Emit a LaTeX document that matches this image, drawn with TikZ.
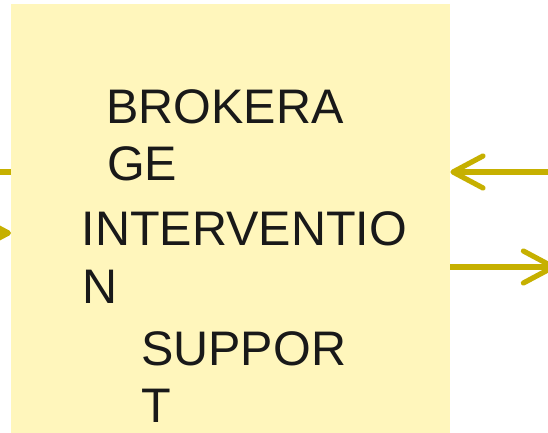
\documentclass[tikz,border=0pt]{standalone}
\usepackage{fontspec}
\setmainfont{Liberation Sans}
\usetikzlibrary{arrows.meta}
\definecolor{boxfill}{RGB}{255,246,188}
\definecolor{olive}{RGB}{198,176,0}
\tikzset{
  lbl/.style={inner sep=0pt,anchor=base west,text=black!90,font=\fontsize{48.5pt}{57pt}\selectfont},
  conn/.style={draw=olive,line width=5.2pt},
  arr/.style={conn,-{Straight Barb[length=30pt,width=32pt,round]}}
}
\begin{document}
\begin{tikzpicture}[x=1pt,y=-1pt]
\useasboundingbox (0,0) rectangle (548,433);
\clip (0,0) rectangle (548,433);
\node[fill=boxfill,inner sep=0pt,minimum width=439pt,minimum height=460pt,anchor=north west] (box) at (11,4) {};
\node[lbl] (t1) at (106,123) {BROKERA};
\node[lbl] (t2) at (107,180) {GE};
\node[lbl] (t3) at (81.5,245) {INTERVENTIO};
\node[lbl] (t4) at (82,303) {N};
\node[lbl] (t5) at (141,365) {SUPPOR};
\node[lbl] (t6) at (141,422) {T};
\coordinate (lout) at (-40,172);
\coordinate (lin) at (-80,233);
\coordinate (rin) at (620,172);
\coordinate (rout) at (556,267);
\draw[conn] (lout -| box.west) -- (lout);
\draw[arr] (lin) -- (lin -| box.west);
\draw[arr] (rin) -- (rin -| box.east);
\draw[arr] (rout -| box.east) -- (rout);
\end{tikzpicture}
\end{document}
